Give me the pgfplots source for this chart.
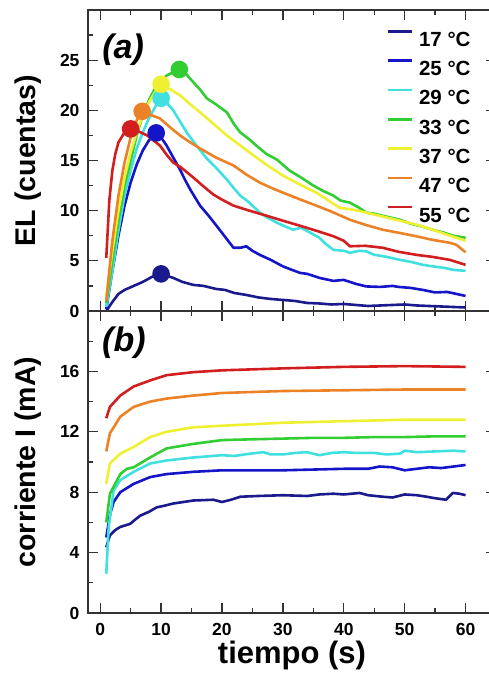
\documentclass[border=0pt]{standalone}
\usepackage{fontspec}
\setmainfont{Liberation Sans}
\usepackage{pgfplots}
\pgfplotsset{compat=1.18}
\definecolor{cA}{HTML}{1A1A8C}
\definecolor{cB}{HTML}{1414C8}
\definecolor{cC}{HTML}{40E0E0}
\definecolor{cD}{HTML}{32CD32}
\definecolor{cE}{HTML}{F0F032}
\definecolor{cF}{HTML}{EB8228}
\definecolor{cG}{HTML}{D21E1E}
\definecolor{frame}{HTML}{333333}
\pgfplotsset{
  common/.style={
    scale only axis, width=408pt,
    xmin=-2, xmax=65,
    axis line style={frame, line width=1.3pt},
    tick style={frame, line width=1.3pt},
    major tick length=10pt, minor tick length=5pt,
    tick align=inside,
    xtick={0,10,...,60}, minor xtick={5,15,...,55},
    ticklabel style={font=\fontsize{17.5}{20}\selectfont\bfseries},
    /pgf/number format/assume math mode=true,
    yticklabel style={xshift=-5pt},
    xticklabel style={yshift=-7pt},
    every axis plot/.append style={line width=2.6pt, line join=round},
    ylabel style={font=\fontsize{28.5}{32}\selectfont\bfseries, at={(axis description cs:-0.147,0.5)}, anchor=center, rotate=0},
  }
}
\begin{document}
\begin{tikzpicture}[x=1pt,y=1pt]
\begin{axis}[common, name=top, at={(88pt,364pt)}, anchor=south west,
  height=301pt, ymin=0, ymax=30,
  ytick={0,5,...,25}, minor ytick={2.5,7.5,...,27.5},
  xticklabels={},
  ylabel={EL (cuentas)},
  legend style={draw=none, fill=none, at={(axis description cs:0.731,0.934)}, anchor=north west,
    inner sep=0pt, row sep=13pt, column sep=6pt,
    font=\fontsize{20.5}{24}\selectfont\bfseries,
    nodes={inner sep=0pt, text height=15pt, text depth=0pt, anchor=west}},
  legend image code/.code={\draw[#1, line width=2.6pt] (0pt,7.5pt) -- (24pt,7.5pt);},
  legend cell align=left,
]
\addplot[cA] coordinates {(1,0) (2,0.9) (3,1.7) (4,2.1) (5.5,2.5) (7,2.9) (8.5,3.4) (10,3.7) (11,3.5) (12,3.3) (13.5,2.9) (15.3,2.6) (17,2.5) (19,2.2) (20.5,2.1) (22,1.8) (24,1.6) (26,1.35) (28,1.2) (30,1.1) (32,1.0) (34,0.8) (36,0.75) (38,0.65) (40,0.7) (42,0.6) (44,0.5) (46,0.55) (48,0.6) (50,0.65) (52,0.55) (54,0.5) (56,0.45) (58,0.4) (60,0.35)};
\addlegendentry{17 °C}
\addplot[cB] coordinates {(1,0.2) (2,4) (3,7.5) (4,10.5) (5,12.8) (6,14.6) (7,16) (8,17) (9.2,17.75) (10,17.3) (10.9,16.5) (12,15.3) (13.1,14.1) (14,13) (14.8,12.1) (15.6,11.3) (16.4,10.5) (17.8,9.5) (19.1,8.5) (20.5,7.4) (21.9,6.3) (23,6.3) (24,6.45) (25,6) (26.2,5.6) (28,5.1) (30,4.45) (31.5,4.1) (32.8,3.8) (34,3.7) (36,3.3) (38.3,3.0) (40,3.1) (42,2.7) (43.7,2.45) (46,2.4) (48,2.5) (49,2.4) (51,2.3) (53,2.1) (55,1.85) (57,1.9) (58.5,1.7) (60,1.5)};
\addlegendentry{25 °C}
\addplot[cC] coordinates {(1,0.4) (2,4) (3,8) (4,11.5) (5,14) (6,16.2) (7,17.8) (8,19.2) (9,20.3) (10,21.2) (11,20.7) (12,20) (13,19) (14.2,17.8) (15.8,16.5) (17.5,15.2) (19,14.3) (20.8,13.1) (22,12.2) (23,11.5) (24.5,10.8) (26.2,9.8) (27.5,9.3) (29,8.8) (30.5,8.4) (31.7,8.1) (33,8.3) (34.5,7.8) (36,7.3) (37,6.7) (38.3,6.1) (40,6.0) (41,5.8) (42.5,6.0) (43.7,5.95) (45,5.6) (47,5.4) (49.2,5.1) (51,4.9) (53,4.6) (54.6,4.45) (56.5,4.3) (58,4.1) (60,4.0)};
\addlegendentry{29 °C}
\addplot[cD] coordinates {(1,0.8) (2,5) (3,9) (4,12.5) (5,15) (6,17.5) (7,19.5) (8,21) (9,22.2) (10,23) (11,23.5) (12,23.8) (13,24.07) (14,23.7) (15.3,22.8) (16.5,22) (17.5,21.2) (19,20.6) (20.8,19.8) (22,18.6) (23,17.8) (24.5,17.1) (26,16.3) (27.3,15.65) (29,15.1) (31.1,14) (33,13.3) (35,12.5) (36.5,12.0) (38.3,11.5) (39.5,11.0) (41,10.8) (42.5,10.3) (43.7,9.8) (45,9.7) (47,9.4) (49.2,9.1) (51,8.7) (53,8.4) (54.6,8.1) (56.5,7.8) (58,7.5) (60,7.3)};
\addlegendentry{33 °C}
\addplot[cE] coordinates {(1,1.5) (2,6) (3,10) (4,13.3) (5,15.8) (6,17.8) (7,19.5) (8,20.8) (9,21.8) (10,22.6) (11.5,22.1) (13.1,21.5) (14.8,20.6) (16.4,19.8) (18.5,18.7) (20.8,17.5) (23,16.5) (25.2,15.5) (27.5,14.5) (30,13.5) (32.5,12.7) (35.5,11.8) (37.5,11.0) (39.3,10.3) (41.5,10.1) (43.7,9.8) (46.5,9.4) (49.2,9.0) (52,8.6) (54.6,8.1) (57,7.6) (59,7.2) (60,7.0)};
\addlegendentry{37 °C}
\addplot[cF] coordinates {(1,1.0) (2,7) (3,11.5) (4,14.8) (5,17.3) (6,19) (6.9,19.9) (8,19.6) (9.8,19.2) (11.5,18.3) (13.1,17.5) (14.8,16.8) (16.4,16.2) (19,15.3) (21.9,14.5) (24,13.6) (26.2,12.8) (28,12.3) (30,11.8) (32.5,11.2) (35.5,10.5) (38,9.9) (41,9.1) (43.5,8.6) (46.4,8.1) (49,7.8) (51.9,7.45) (54.5,7.1) (57.4,6.8) (58.5,6.6) (60,5.85)};
\addlegendentry{47 °C}
\addplot[cG] coordinates {(1,5.3) (1.5,11) (2,14) (2.5,15.7) (3,16.8) (4,17.8) (5,18.15) (6.3,17.9) (7.7,17.5) (9.8,16.5) (11,15.5) (12,14.8) (13.5,14.2) (15.3,13.3) (17,12.4) (18.6,11.6) (20,11.1) (21.9,10.5) (24.5,10.0) (27.3,9.5) (30,9.0) (32.8,8.5) (35.5,8.0) (38.3,7.45) (40,7.0) (41,6.45) (43.5,6.5) (46.4,6.3) (49,5.9) (51.9,5.6) (54.5,5.4) (57.4,5.1) (60,4.6)};
\addlegendentry{55 °C}
\addplot[only marks, mark=*, mark size=7.5pt, cA, forget plot] coordinates {(10,3.7)};
\addplot[only marks, mark=*, mark size=7.5pt, cB, forget plot] coordinates {(9.2,17.75)};
\addplot[only marks, mark=*, mark size=7.5pt, cC, forget plot] coordinates {(10,21.2)};
\addplot[only marks, mark=*, mark size=7.5pt, cD, forget plot] coordinates {(13,24.07)};
\addplot[only marks, mark=*, mark size=7.5pt, cE, forget plot] coordinates {(10,22.6)};
\addplot[only marks, mark=*, mark size=7.5pt, cF, forget plot] coordinates {(6.9,19.9)};
\addplot[only marks, mark=*, mark size=7.5pt, cG, forget plot] coordinates {(5,18.15)};
\node[font=\fontsize{34}{38}\selectfont\bfseries\itshape, anchor=center] at (axis description cs:0.086,0.867) {(a)};
\end{axis}
\begin{axis}[common, name=bot, at={(88pt,62pt)}, anchor=south west,
  height=302pt, ymin=0, ymax=20,
  ytick={0,4,...,16}, minor ytick={2,6,...,18},
  ylabel={corriente I (mA)},
  xlabel={tiempo (s)},
  xlabel style={font=\fontsize{31}{34}\selectfont\bfseries, at={(axis description cs:0.5,-0.142)}, anchor=center},
]
\addplot[cA] coordinates {(1,4.35) (1.6,5.15) (2.5,5.5) (3.3,5.7) (4.9,5.9) (5.8,6.2) (6.6,6.45) (8,6.7) (9.3,7.0) (10.5,7.1) (12,7.25) (15.3,7.45) (18.6,7.5) (20,7.35) (21.5,7.5) (23,7.7) (26,7.75) (30,7.8) (34,7.75) (36,7.85) (38.3,7.9) (40,7.85) (42.6,7.95) (44,7.8) (46.4,7.7) (48,7.65) (50,7.85) (52,7.8) (53.6,7.7) (55,7.6) (56.8,7.5) (57.9,7.95) (59,7.9) (60,7.8)};
\addplot[cB] coordinates {(1,5.0) (1.6,6.5) (2.2,7.35) (3.3,8.0) (5.5,8.55) (8.2,9.0) (10.9,9.2) (15.3,9.35) (20,9.45) (25,9.45) (30,9.45) (35,9.5) (40,9.55) (44,9.55) (45.9,9.7) (48,9.65) (50,9.45) (52,9.55) (54,9.65) (56,9.6) (58,9.7) (60,9.8)};
\addplot[cC] coordinates {(1,2.6) (1.4,5.7) (2.2,8.1) (3.3,8.8) (5.5,9.35) (8.2,9.9) (10.9,10.1) (15.3,10.3) (20,10.45) (22,10.4) (24.6,10.55) (26.8,10.65) (28,10.5) (30,10.5) (32,10.6) (33.9,10.65) (36,10.45) (38,10.6) (40,10.65) (42,10.6) (45,10.6) (47,10.5) (49.2,10.55) (50,10.75) (52,10.65) (55,10.7) (58,10.75) (60,10.7)};
\addplot[cD] coordinates {(1,6.0) (1.6,7.9) (3.3,9.2) (4.4,9.55) (5.5,9.65) (8.2,10.3) (10.9,10.9) (15.3,11.2) (20,11.45) (24.6,11.5) (30,11.55) (35,11.6) (40,11.6) (45,11.65) (50,11.65) (55,11.7) (60,11.7)};
\addplot[cE] coordinates {(1,8.55) (1.6,9.9) (3.3,10.55) (5.5,11.0) (8.2,11.65) (10.9,12.0) (15.3,12.3) (20,12.4) (30,12.6) (40,12.7) (50,12.8) (60,12.8)};
\addplot[cF] coordinates {(1,10.7) (1.6,11.9) (3.3,13.0) (5.5,13.65) (8.2,14.0) (10.9,14.2) (15.3,14.4) (20,14.57) (30,14.7) (40,14.75) (50,14.8) (60,14.8)};
\addplot[cG] coordinates {(1,12.9) (1.6,13.65) (3.3,14.4) (5.5,15.0) (8.2,15.4) (10.9,15.75) (15.3,15.95) (20,16.07) (30,16.2) (40,16.3) (50,16.35) (60,16.3)};
\node[font=\fontsize{34}{38}\selectfont\bfseries\itshape, anchor=center] at (axis description cs:0.088,0.894) {(b)};
\end{axis}
\pgfresetboundingbox
\path[use as bounding box] (0pt,0pt) rectangle (489pt,675pt);
\end{tikzpicture}
\end{document}
